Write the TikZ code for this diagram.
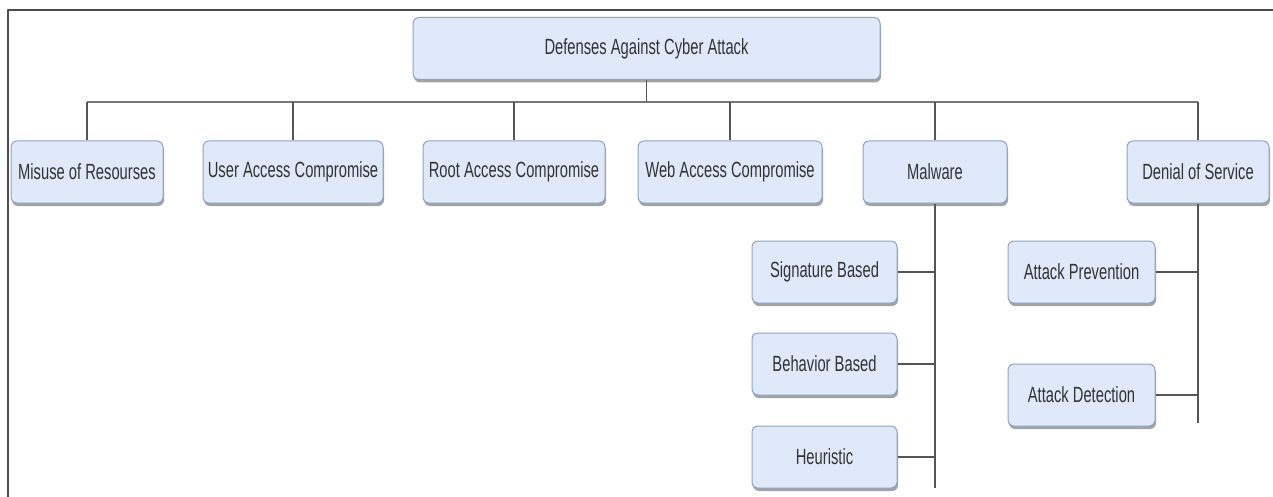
\documentclass[tikz,border=0pt]{standalone}
\usepackage{fontspec}
\setmainfont[FakeStretch=0.67]{Liberation Sans}
\usetikzlibrary{positioning,calc,shadows}
\definecolor{boxfill}{HTML}{DFE9F9}
\definecolor{boxline}{HTML}{8FA3C0}
\definecolor{linkcol}{HTML}{555555}
\begin{document}
\begin{tikzpicture}[x=1pt,y=-1pt, line join=round,
  box/.style={draw=boxline, fill=boxfill, rounded corners=6pt, line width=1pt,
    minimum height=62pt, inner sep=2pt, text=black!80,
    font=\fontsize{22}{26}\selectfont,
    drop shadow={shadow xshift=1pt, shadow yshift=-3pt, fill=black!45, opacity=0.8}},
  link/.style={draw=linkcol, line width=1.4pt},
  bus/.style={draw=linkcol!80, line width=2.6pt}]
\useasboundingbox (0,0) rectangle (1273,497);
\draw[line width=2pt, black!70] (1273,10) -- (8,10) -- (8,497);
\node[box, minimum width=467pt] (root) at (646.5,48.5) {Defenses Against Cyber Attack};
\node[box, minimum width=152pt] (misuse) at (87,172) {Misuse of Resourses};
\node[box, minimum width=180pt] (user) at (293,172) {User Access Compromise};
\node[box, minimum width=182pt] (rootacc) at (514,172) {Root Access Compromise};
\node[box, minimum width=184pt] (web) at (730,172) {Web Access Compromise};
\node[box, minimum width=144pt] (malware) at (935,172) {Malware};
\node[box, minimum width=142pt] (dos) at (1198,172) {Denial of Service};
\node[box, minimum width=145pt] (sig) at (824.5,272) {Signature Based};
\node[box, minimum width=145pt] (beh) at (824.5,364) {Behavior Based};
\node[box, minimum width=145pt] (heur) at (824.5,457) {Heuristic};
\node[box, minimum width=147pt] (prev) at (1081.5,272) {Attack Prevention};
\node[box, minimum width=147pt] (det) at (1081.5,395) {Attack Detection};
\coordinate (bus) at (646.5,102);
\coordinate (malend) at (935,488);
\coordinate (dosend) at (1198,423);
\draw[bus] (misuse.north |- bus) -- (dos.north |- bus);
\draw[link] (root.south) -- (bus);
\foreach \n in {misuse,user,rootacc,web,malware,dos}
  \draw[link] (\n.north) -- (\n.north |- bus);
\draw[link] (malware.south) -- (malend);
\draw[link] (dos.south) -- (dosend);
\foreach \n in {sig,beh,heur}
  \draw[link] (\n.east) -- (\n.east -| malend);
\foreach \n in {prev,det}
  \draw[link] (\n.east) -- (\n.east -| dosend);
\end{tikzpicture}
\end{document}
